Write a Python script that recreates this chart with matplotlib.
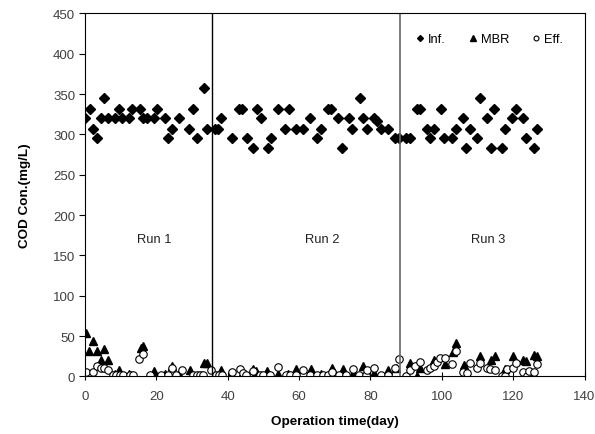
import matplotlib
matplotlib.use("Agg")
import matplotlib.pyplot as plt

plt.rcParams['font.family'] = ['Liberation Sans', 'DejaVu Sans']

# Influent COD (day, mg/L)
inf_day = [0, 1.4, 2.3, 3.4, 4.4, 5.3, 6.4, 8.3, 9.4, 10.4, 12.2, 13.3, 15.4, 16.3, 17.4,
           19.3, 20.3, 22.3, 23.2, 24.4, 26.2, 29.2, 30.3, 31.3, 33.3, 34.3,
           36.3, 37.2, 38.2, 41.2, 43.2, 44.1, 45.3, 47.1, 48.3, 49.2, 51.2, 52.2, 54.2,
           56.1, 57.2, 59.1, 61.1, 63.0, 65.1, 66.2, 68.0, 69.0, 71.0, 72.1, 74.0, 74.9,
           77.0, 77.9, 79.0, 80.9, 81.9, 83.0, 85.0, 86.9, 87.9,
           90.0, 91.0, 93.1, 94.0, 95.9, 96.8, 97.9, 99.8, 100.7, 102.8, 103.9, 105.8,
           106.9, 107.8, 109.9, 110.8, 112.7, 113.8, 114.7, 116.8, 117.7, 119.8, 120.7,
           122.7, 123.7, 125.7, 126.7]
inf_val = [320, 332, 307, 295, 320, 345, 320, 320, 332, 320, 320, 332, 332, 320, 320,
           320, 332, 320, 295, 307, 320, 307, 332, 295, 357, 307,
           307, 307, 320, 295, 332, 332, 295, 283, 332, 320, 283, 295, 332,
           307, 332, 307, 307, 320, 295, 307, 332, 332, 320, 283, 320, 307,
           345, 320, 307, 320, 316, 307, 307, 295, 295,
           295, 295, 332, 332, 307, 295, 307, 332, 295, 295, 307, 320,
           283, 307, 295, 345, 320, 283, 332, 283, 307, 320, 332,
           320, 295, 283, 307]

# MBR COD
mbr_day = [0.3, 1.2, 2.3, 3.3, 4.4, 5.3, 6.4, 8.3, 9.4, 12.2, 15.7, 16.3, 19.3, 22.3, 24.4,
           26.2, 29.4, 33.4, 34.3,
           38.2, 41.0, 44.0, 47.0, 47.9, 51.1, 54.0, 57.0, 59.2, 63.3, 66.0, 69.2, 72.2,
           75.0, 78.0, 81.0, 85.0, 87.2,
           91.0, 93.0, 94.0, 97.8, 100.9, 103.1, 104.0, 106.1, 110.7, 113.9, 115.0,
           117.8, 119.9, 122.7, 123.6, 125.9, 126.8]
mbr_val = [54, 31, 44, 31, 20, 34, 20, 3, 8, 3, 35, 38, 7, 3, 13,
           3, 8, 17, 17,
           8, 2, 3, 9, 7, 7, 3, 3, 9, 9, 3, 10, 9,
           4, 13, 4, 8, 10,
           17, 0, 11, 20, 15, 30, 41, 14, 26, 21, 25,
           9, 26, 20, 19, 27, 26]

# Effluent COD
eff_day = [0.3, 2.1, 3.3, 4.4, 5.3, 6.4, 7.9, 8.8, 9.7, 10.7, 12.6, 13.5, 15.2, 16.3, 18.3,
           21.2, 23.3, 24.4, 25.5, 27.2, 30.3, 31.3, 32.2, 33.2, 35.3,
           36.6, 37.5, 38.5, 41.2, 43.3, 44.2, 45.1, 47.1, 49.1, 50.0, 51.9, 54.2, 56.4,
           57.5, 59.2, 61.0, 63.1, 64.9, 66.8, 68.1, 69.2, 71.3, 73.2, 75.2, 76.9, 78.8,
           79.1, 81.1, 83.0, 84.9, 87.0, 88.0,
           90.0, 91.1, 92.6, 93.9, 95.8, 96.7, 97.8, 98.6, 99.5, 100.9, 102.9, 104.0,
           105.9, 107.0, 107.9, 110.0, 110.7, 112.8, 113.5, 115.0, 116.9, 117.8, 118.2,
           119.9, 120.8, 122.7, 123.8, 124.5, 125.9, 126.8]
eff_val = [5, 6, 13, 10, 10, 8, 2, 2, 2, 2, 2, 2, 22, 28, 2,
           2, 2, 11, 2, 8, 2, 2, 2, 2, 8,
           2, 2, 2, 6, 9, 4, 2, 7, 2, 2, 2, 12, 2,
           2, 2, 8, 2, 2, 2, 2, 5, 2, 2, 9, 2, 2,
           8, 10, 2, 2, 10, 22,
           1, 8, 13, 18, 8, 10, 13, 18, 23, 23, 16, 32,
           6, 4, 17, 10, 17, 10, 9, 8, 1, 1, 9,
           10, 17, 6, 1, 7, 5, 15]

run_bounds = [35.7, 88.3]
run_labels = ["Run 1", "Run 2", "Run 3"]
run_label_x = [19.5, 66.5, 113]
run_label_y = 170

fig = plt.figure(figsize=(5.95, 4.35), dpi=100)
ax = fig.add_axes([0.1429, 0.1322, 0.8395, 0.8348])

ax.plot(inf_day, inf_val, linestyle='none', marker='D', ms=4.6, color='black', label='Inf.')
ax.plot(mbr_day, mbr_val, linestyle='none', marker='^', ms=5.6, color='black', label='MBR')
ax.plot(eff_day, eff_val, linestyle='none', marker='o', ms=5.4, markerfacecolor='white',
        markeredgecolor='black', markeredgewidth=0.8, label='Eff.')

ax.axvline(run_bounds[0], color='black', lw=1.0)
ax.axvline(run_bounds[1], color='#666666', lw=1.2)

for lx, lt in zip(run_label_x, run_labels):
    ax.text(lx, run_label_y, lt, ha='center', va='center', fontsize=9.3, color='#222222')

ax.set_xlim(0, 140)
ax.set_ylim(0, 450)
ax.set_xticks(range(0, 141, 20))
ax.set_yticks(range(0, 451, 50))
ax.tick_params(axis='both', labelsize=9.5, labelcolor='#404040', color='black')
ax.tick_params(axis='y', direction='out', length=4, width=0.8, pad=3)
ax.tick_params(axis='x', direction='inout', length=6, width=0.8, pad=7)
for s in ax.spines.values():
    s.set_linewidth(0.8)

ax.set_xlabel('Operation time(day)', fontsize=9.7, fontweight='bold', labelpad=9)
ax.set_ylabel('COD Con.(mg/L)', fontsize=9.7, fontweight='bold', labelpad=16)

ax.legend(loc='center', bbox_to_anchor=(0.81, 0.929), ncol=3, frameon=False,
          fontsize=9.3, markerscale=0.65, handlelength=0.6, handletextpad=0.3,
          columnspacing=1.8)

fig.savefig('out.png', dpi=100)
